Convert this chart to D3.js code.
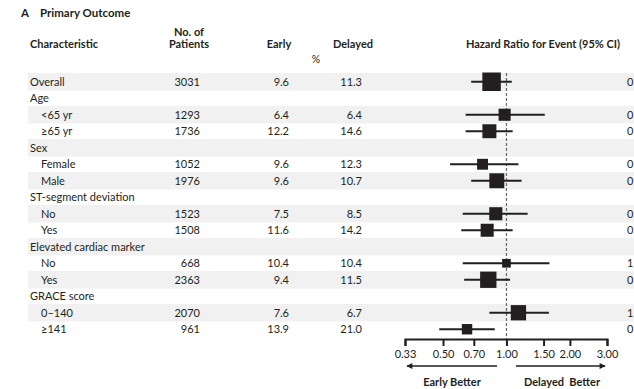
<!DOCTYPE html>
<html>
<head>
<meta charset="utf-8">
<script src="https://cdn.jsdelivr.net/npm/d3@7"></script>
<style>
  html, body { margin: 0; padding: 0; background: #fff; overflow: hidden; }
  svg { display: block; font-family: Lato, "Open Sans", sans-serif; }
</style>
</head>
<body>
<svg id="chart" width="634" height="389"></svg>
<script>
// ---- Data ----
const labels = ["Overall", "Age", "<65 yr", "≥65 yr", "Sex", "Female", "Male",
  "ST-segment deviation", "No", "Yes", "Elevated cardiac marker", "No", "Yes",
  "GRACE score", "0–140", "≥141"];
const levels   = [0, 0, 1, 1, 0, 1, 1, 0, 1, 1, 0, 1, 1, 0, 1, 1];
const patients = [3031, null, 1293, 1736, null, 1052, 1976, null, 1523, 1508, null, 668, 2363, null, 2070, 961];
const early    = [9.6, null, 6.4, 12.2, null, 9.6, 9.6, null, 7.5, 11.6, null, 10.4, 9.4, null, 7.6, 13.9];
const delayed  = [11.3, null, 6.4, 14.6, null, 12.3, 10.7, null, 8.5, 14.2, null, 10.4, 11.5, null, 6.7, 21.0];
const hr       = [0.85, null, 0.98, 0.83, null, 0.77, 0.90, null, 0.89, 0.81, null, 1.00, 0.82, null, 1.14, 0.65];
const ciLow    = [0.68, null, 0.64, 0.64, null, 0.54, 0.68, null, 0.62, 0.61, null, 0.62, 0.63, null, 0.83, 0.48];
const ciHigh   = [1.06, null, 1.52, 1.07, null, 1.14, 1.18, null, 1.26, 1.07, null, 1.60, 1.04, null, 1.59, 0.88];
const tickValues = [0.33, 0.50, 0.70, 1.00, 1.50, 2.00, 3.00];

// ---- Setup ----
const svg = d3.select("#chart");
const ink = "#231f20";
const fmt2 = d3.format(".2f");
const fmt1 = d3.format(".1f");

const idx = d3.range(labels.length);
const y = d3.scaleBand().domain(idx).range([73.5, 337.5]).padding(0);
const yc = i => y(i) + y.bandwidth() / 2;
const x = d3.scaleLog().domain([0.33, 3]).range([405, 607]);
const boxSize = d3.scaleSqrt().domain([0, 3031]).range([0, 18.5]);

// Alternating bands
svg.append("g").selectAll("rect")
  .data(idx.filter(i => i % 2 === 0))
  .join("rect")
  .attr("x", 28).attr("width", 634 - 28)
  .attr("y", i => yc(i) - 8.75).attr("height", 17.5)
  .attr("fill", "#f1f1f1");

// Title
const title = svg.append("text").attr("x", 21).attr("y", 17)
  .attr("font-size", 11.5).attr("font-weight", "bold").attr("fill", ink);
title.append("tspan").text("A");
title.append("tspan").attr("x", 40).text("Primary Outcome");

// Headers
const hdr = svg.append("g").attr("font-size", 11).attr("font-weight", "bold").attr("fill", ink);
hdr.append("text").attr("x", 30).attr("y", 48).text("Characteristic");
hdr.append("text").attr("x", 189).attr("y", 36).attr("text-anchor", "middle").text("No. of");
hdr.append("text").attr("x", 189).attr("y", 48).attr("text-anchor", "middle").text("Patients");
hdr.append("text").attr("x", 279).attr("y", 48).attr("text-anchor", "middle").text("Early");
hdr.append("text").attr("x", 353).attr("y", 48).attr("text-anchor", "middle").text("Delayed");
hdr.append("text").attr("x", 543).attr("y", 48).attr("text-anchor", "middle").text("Hazard Ratio for Event (95% CI)");
svg.append("text").attr("x", 316).attr("y", 63).attr("text-anchor", "middle")
  .attr("font-size", 10.5).attr("fill", ink).text("%");

// Row texts
const rowsG = svg.append("g").attr("font-size", 11).attr("fill", ink);
rowsG.selectAll("text.lab").data(idx).join("text").attr("class", "lab")
  .attr("x", i => levels[i] ? 41 : 30).attr("y", i => yc(i) + 4)
  .text(i => labels[i]);
rowsG.selectAll("text.pat").data(idx.filter(i => patients[i] != null)).join("text").attr("class", "pat")
  .attr("x", 200).attr("y", i => yc(i) + 4).attr("text-anchor", "end")
  .text(i => patients[i]);
rowsG.selectAll("text.early").data(idx.filter(i => early[i] != null)).join("text").attr("class", "early")
  .attr("x", 289).attr("y", i => yc(i) + 4).attr("text-anchor", "end")
  .text(i => fmt1(early[i]));
rowsG.selectAll("text.del").data(idx.filter(i => delayed[i] != null)).join("text").attr("class", "del")
  .attr("x", 362).attr("y", i => yc(i) + 4).attr("text-anchor", "end")
  .text(i => fmt1(delayed[i]));
rowsG.selectAll("text.hr").data(idx.filter(i => hr[i] != null)).join("text").attr("class", "hr")
  .attr("x", 627).attr("y", i => yc(i) + 4)
  .text(i => `${fmt2(hr[i])} (${fmt2(ciLow[i])}–${fmt2(ciHigh[i])})`);

// Reference line at HR = 1
svg.append("line")
  .attr("x1", x(1)).attr("x2", x(1)).attr("y1", 73).attr("y2", 339)
  .attr("stroke", "#666").attr("stroke-width", 1.2).attr("stroke-dasharray", "3,2");

// CI lines and boxes
const plotIdx = idx.filter(i => hr[i] != null);
svg.append("g").selectAll("line").data(plotIdx).join("line")
  .attr("x1", i => x(ciLow[i])).attr("x2", i => x(ciHigh[i]))
  .attr("y1", i => yc(i)).attr("y2", i => yc(i))
  .attr("stroke", ink).attr("stroke-width", 2);
svg.append("g").selectAll("rect").data(plotIdx).join("rect")
  .attr("x", i => x(hr[i]) - boxSize(patients[i]) / 2)
  .attr("y", i => yc(i) - boxSize(patients[i]) / 2)
  .attr("width", i => boxSize(patients[i]))
  .attr("height", i => boxSize(patients[i]))
  .attr("fill", ink);

// Axis
const axis = d3.axisBottom(x).tickValues(tickValues).tickFormat(fmt2).tickSizeOuter(0).tickSize(7).tickPadding(4);
const ax = svg.append("g").attr("transform", "translate(0,339)").call(axis);
ax.select(".domain").attr("stroke", ink).attr("stroke-width", 2);
ax.selectAll(".tick line").attr("stroke", ink).attr("stroke-width", 2);
ax.selectAll(".tick text").attr("fill", ink).attr("font-size", 11).attr("font-family", "Lato, sans-serif");

// Arrows
const defs = svg.append("defs");
defs.append("marker").attr("id", "arr").attr("viewBox", "0 0 10 10")
  .attr("refX", 9).attr("refY", 5).attr("markerWidth", 6).attr("markerHeight", 5)
  .attr("markerUnits", "userSpaceOnUse").attr("orient", "auto")
  .append("path").attr("d", "M0,0 L10,5 L0,10 Z").attr("fill", ink);
defs.select("marker").attr("markerWidth", 10).attr("markerHeight", 6);
svg.append("line").attr("x1", 497).attr("x2", 407).attr("y1", 366).attr("y2", 366)
  .attr("stroke", ink).attr("stroke-width", 1.5).attr("marker-end", "url(#arr)");
svg.append("line").attr("x1", 516).attr("x2", 605).attr("y1", 366).attr("y2", 366)
  .attr("stroke", ink).attr("stroke-width", 1.5).attr("marker-end", "url(#arr)");

svg.append("text").attr("x", 452).attr("y", 386).attr("text-anchor", "middle")
  .attr("font-size", 11).attr("font-weight", "bold").attr("fill", ink).text("Early Better");
svg.append("text").attr("x", 562).attr("y", 386).attr("text-anchor", "middle")
  .attr("font-size", 11).attr("font-weight", "bold").attr("fill", ink).text("Delayed  Better")
  .attr("xml:space", "preserve").style("white-space", "pre");
</script>
</body>
</html>
